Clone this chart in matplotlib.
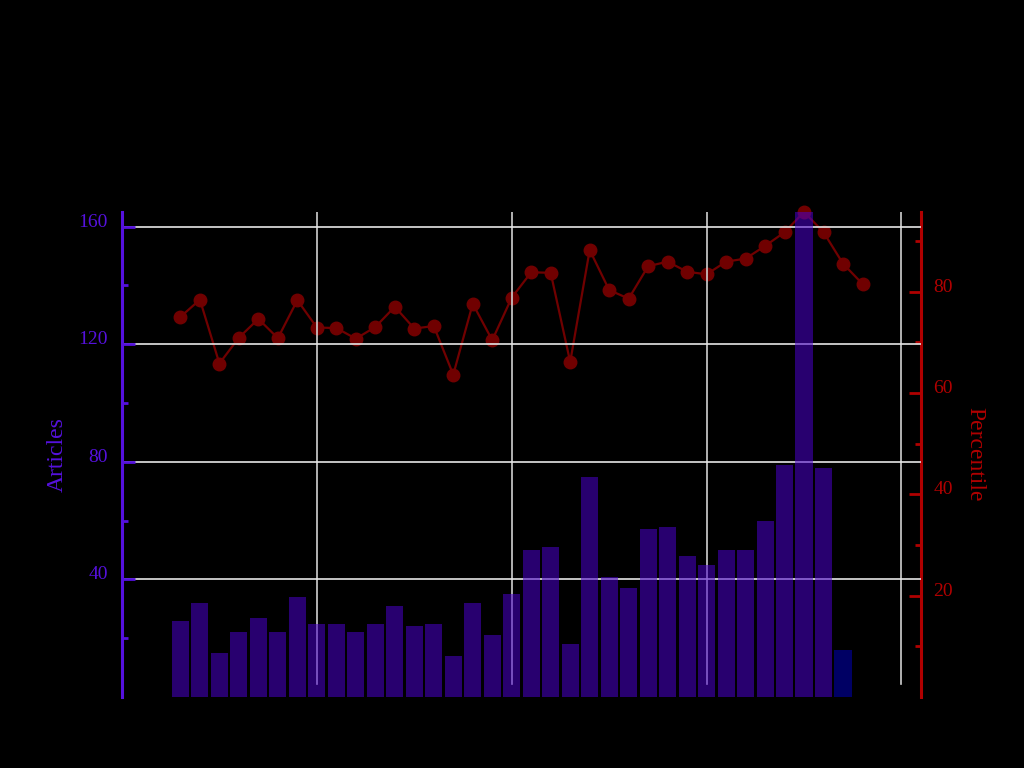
import matplotlib
matplotlib.use("Agg")
import matplotlib.pyplot as plt
from matplotlib.ticker import FixedLocator

plt.rcParams["font.family"] = ["Liberation Serif", "DejaVu Serif"]

# Articles per year (last year is partial)
years = [1983, 1984, 1985, 1986, 1987, 1988, 1989, 1990, 1991, 1992, 1993, 1994,
         1995, 1996, 1997, 1998, 1999, 2000, 2001, 2002, 2003, 2004, 2005, 2006,
         2007, 2008, 2009, 2010, 2011, 2012, 2013, 2014, 2015, 2016, 2017]
articles = [26, 32, 15, 22, 27, 22, 34, 25, 25, 22, 25, 31, 24, 25, 14, 32, 21, 35,
            50, 51, 18, 75, 41, 37, 57, 58, 48, 45, 50, 50, 60, 79, 165, 78, 16]

# Percentile line goes one year further
pct_years = years + [2018]
percentile = [75.0, 78.4, 65.8, 70.9, 74.6, 70.8, 78.3, 72.9, 72.8, 70.7, 73.0, 77.0,
              72.7, 73.2, 63.6, 77.6, 70.4, 78.8, 83.8, 83.7, 66.1, 88.2, 80.3, 78.6,
              85.0, 85.9, 83.9, 83.4, 85.9, 86.5, 89.0, 91.7, 95.7, 91.7, 85.5, 81.5]

decades = [1990, 2000, 2010, 2020]
left_major = [40, 80, 120, 160]
left_minor = [20, 60, 100, 140]
right_major = [20, 40, 60, 80]
right_minor = [10, 30, 50, 70, 90]

left_color = "#5511dd"
bar_color = "#4a00cc"
partial_color = "#0000b8"
right_color = "#b00000"
line_color = "#700000"

fig = plt.figure(figsize=(10.24, 7.68), dpi=100, facecolor="black")
ax = fig.add_axes([0.1191, 0.0924, 0.7803, 0.6316])
ax2 = ax.twinx()

# bars above the line: put the bar axes on top
ax.set_zorder(2)
ax2.set_zorder(1)
ax.patch.set_visible(False)
ax2.set_facecolor("black")

colors = [bar_color] * (len(years) - 1) + [partial_color]
ax.bar(years, articles, width=0.88, color=colors, alpha=0.55, zorder=1)

ax2.plot(pct_years, percentile, color=line_color, lw=1.6, marker="o",
         markersize=9, clip_on=False)

ax.set_xlim(1980, 2021)
ax.set_ylim(0, 165)
ax2.set_ylim(0, 95.7)

# grid
ax.set_axisbelow(True)
ax.yaxis.set_major_locator(FixedLocator(left_major))
ax.yaxis.set_minor_locator(FixedLocator(left_minor))
ax.grid(axis="y", color="#e6e6e6", lw=1.2)
for d in decades:
    ax.axvline(d, ymin=0.027, ymax=1, color="#d0d0d0", lw=1.2, zorder=0.5)

ax2.yaxis.set_major_locator(FixedLocator(right_major))
ax2.yaxis.set_minor_locator(FixedLocator(right_minor))

# spines
for a in (ax, ax2):
    for s in a.spines.values():
        s.set_visible(False)
ax.spines["left"].set_visible(True)
ax.spines["left"].set_color(left_color)
ax.spines["left"].set_linewidth(2.2)
ax2.spines["right"].set_visible(True)
ax2.spines["right"].set_color(right_color)
ax2.spines["right"].set_linewidth(2.2)

ax.tick_params(axis="x", which="both", bottom=False, labelbottom=False)
ax.tick_params(axis="y", which="major", direction="in", length=9, width=2,
               color=left_color, labelcolor=left_color, labelsize=14, pad=10)
ax.tick_params(axis="y", which="minor", direction="in", length=4.5, width=2,
               color=left_color)
ax2.tick_params(axis="y", which="major", direction="in", length=9, width=2,
                color=right_color, labelcolor=right_color, labelsize=14, pad=9)
ax2.tick_params(axis="y", which="minor", direction="in", length=4.5, width=2,
                color=right_color)

for lab in ax.get_yticklabels() + ax2.get_yticklabels():
    lab.set_va("baseline")

ax.set_ylabel("Articles", color=left_color, fontsize=17, labelpad=8)
ax2.set_ylabel("Percentile", color=right_color, fontsize=17, rotation=270,
               labelpad=23)

fig.savefig("out.png", dpi=100, facecolor="black")
